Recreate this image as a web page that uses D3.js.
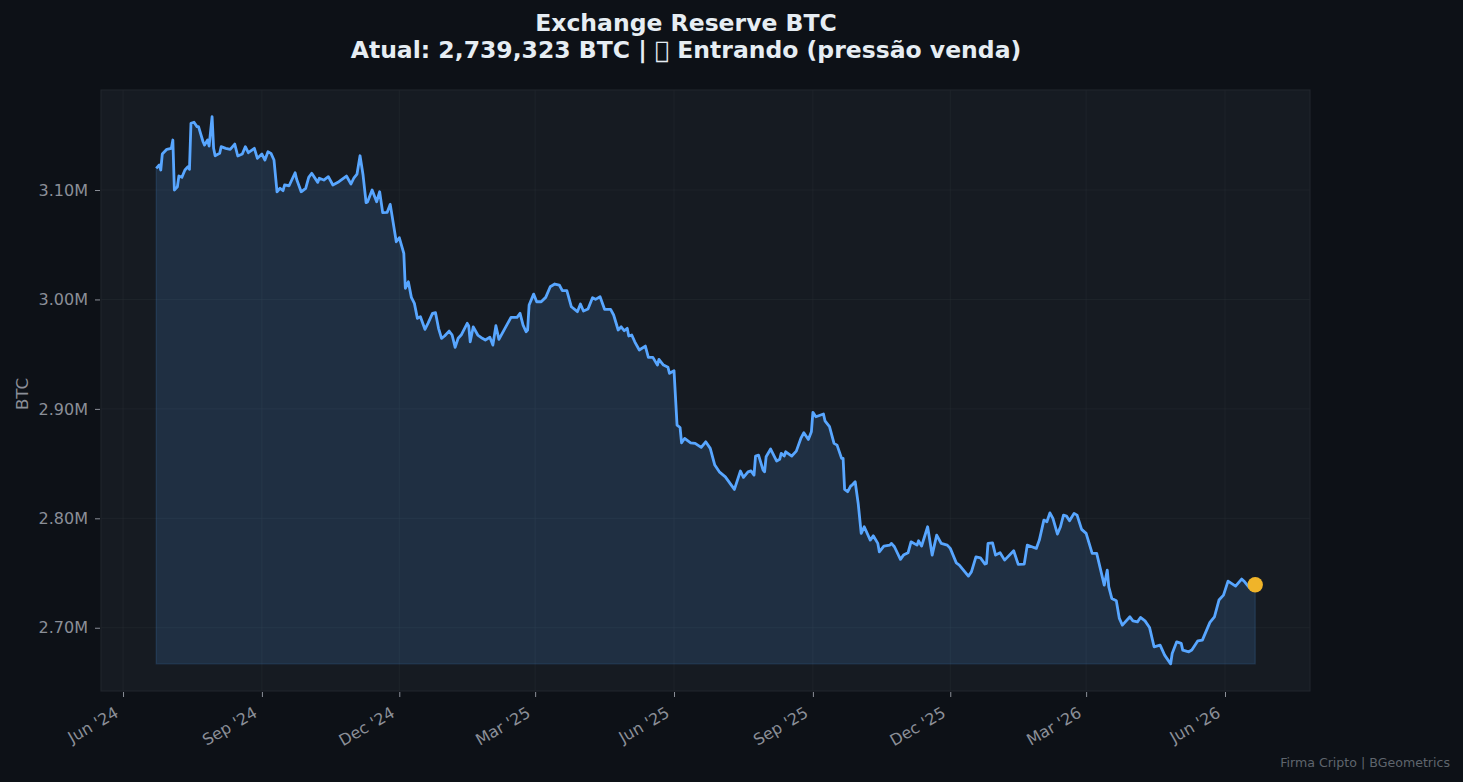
<!DOCTYPE html>
<html>
<head>
<meta charset="utf-8">
<title>Exchange Reserve BTC</title>
<script src="https://cdn.jsdelivr.net/npm/d3@7"></script>
<style>
	html, body { margin: 0; padding: 0; background: #0d1117; overflow: hidden; }
	svg { display: block; font-family: "DejaVu Sans", sans-serif; }
</style>
</head>
<body>
<svg id="chart" width="1463" height="782"></svg>
<script>
// --- Data ---
var START_DATE = '2024-06-01';

// days since START_DATE
var dayOffsets = [
	22, 24, 25, 26, 29, 32, 33, 34, 36, 37, 39, 41, 43, 44, 45, 47, 49, 50, 53, 54,
	56, 57, 59, 60, 61, 64, 65, 68, 71, 74, 76, 79, 81, 83, 87, 89, 92, 94, 96, 98,
	100, 102, 104, 106, 107, 110, 114, 115, 118, 121, 123, 125, 129, 130, 133, 136, 139, 143, 148, 151,
	153, 155, 157, 159, 161, 162, 165, 168, 170, 172, 175, 177, 181, 183, 186, 187, 189, 191, 193, 195,
	197, 200, 202, 205, 207, 209, 211, 213, 216, 218, 220, 222, 224, 228, 229, 230, 232, 235, 238, 240,
	243, 245, 247, 249, 253, 257, 261, 263, 265, 267, 268, 269, 272, 274, 277, 280, 283, 286, 289, 291,
	294, 297, 301, 303, 305, 308, 311, 313, 316, 319, 323, 325, 328, 330, 332, 334, 335, 337, 339, 342,
	346, 348, 351, 354, 355, 358, 361, 362, 365, 367, 369, 370, 372, 376, 379, 383, 386, 389, 392, 395,
	399, 405, 409, 411, 414, 416, 418, 419, 421, 424, 425, 426, 429, 433, 435, 436, 438, 439, 443, 446,
	449, 451, 454, 456, 457, 459, 464, 465, 468, 471, 473, 476, 477, 478, 480, 482, 483, 485, 487, 489,
	491, 495, 497, 500, 501, 504, 508, 509, 511, 515, 517, 520, 522, 526, 527, 529, 533, 536, 539, 542,
	546, 548, 552, 554, 560, 562, 565, 568, 571, 572, 573, 576, 578, 581, 584, 590, 593, 597, 599, 602,
	605, 607, 610, 612, 614, 616, 619, 621, 623, 625, 627, 630, 632, 635, 638, 642, 645, 650, 652, 653,
	655, 658, 660, 662, 667, 669, 672, 674, 677, 680, 683, 687, 690, 694, 695, 698, 701, 702, 706, 708,
	712, 715, 720, 723, 726, 729, 732, 737, 741, 743, 746, 750
];

// thousand BTC on exchanges
var reserveK = [
	3119.8, 3122.9, 3118.3, 3132.9, 3137.2, 3138.1, 3145.7, 3100, 3103, 3112.8, 3111.6, 3118.3, 3121.3, 3118.9, 3161, 3161.9, 3157.9, 3157.9, 3144.1, 3141.1,
	3145.7, 3140.2, 3167, 3138.1, 3131.3, 3133.5, 3139.6, 3138.1, 3137.2, 3142, 3131.1, 3132.9, 3139.6, 3134.1, 3138.1, 3129, 3132.9, 3127.4, 3135, 3133.5,
	3127.4, 3098.4, 3101.6, 3099.4, 3104.6, 3103.9, 3115.8, 3109.8, 3098.4, 3101.6, 3111.6, 3115.3, 3107, 3110.7, 3109.1, 3112.2, 3104.6, 3107.6, 3112.8, 3105.5,
	3111.2, 3114.6, 3131.3, 3113.7, 3088.4, 3089.3, 3100, 3089.3, 3098.4, 3079.3, 3079.6, 3086.9, 3052.7, 3056.4, 3042.1, 3010.2, 3016.2, 3001.9, 2996.4, 2982.7,
	2984.2, 2972.7, 2978.2, 2987.3, 2987.9, 2973.6, 2964.5, 2966.6, 2971.1, 2967.5, 2956.2, 2964.5, 2967.5, 2978.2, 2975.7, 2961.3, 2975, 2967.5, 2964.5, 2962.9,
	2965.4, 2958.3, 2976, 2963.5, 2973.6, 2983.6, 2983.6, 2987.3, 2976.6, 2970.5, 2972, 2994.9, 3004.9, 2997.9, 2997.9, 3001.9, 3011.6, 3014.1, 3013.2, 3008,
	3008, 2993.3, 2988.8, 2995.8, 2989.4, 2991.2, 3001.6, 3000.1, 3002.5, 2991, 2991, 2985.8, 2972.1, 2975, 2971.4, 2973.6, 2966.6, 2967.5, 2961.3, 2953.8,
	2957.4, 2947.1, 2947.1, 2940, 2945.3, 2940, 2938, 2932.5, 2934.8, 2885.2, 2883, 2869, 2873, 2869, 2868.5, 2864.8, 2869.9, 2863.9, 2848.7, 2842.5,
	2837.9, 2826.4, 2843.2, 2837.4, 2842.5, 2843.4, 2839.5, 2856.9, 2857.8, 2844.1, 2842.5, 2856.2, 2863.3, 2852.3, 2853.9, 2859.3, 2856.9, 2860.8, 2856.9, 2861.4,
	2873, 2878.2, 2872.1, 2879.1, 2896.8, 2892.8, 2895.3, 2889.1, 2883.7, 2868.5, 2866.9, 2854.8, 2854.8, 2826.4, 2824.3, 2829.5, 2830.4, 2833.4, 2813.6, 2786.2,
	2792.3, 2780.1, 2784, 2777.1, 2769.4, 2774.6, 2775.5, 2777.1, 2774, 2762.5, 2766.4, 2768.5, 2778.5, 2775.5, 2779.5, 2774.6, 2792.3, 2766.4, 2784.7, 2777.1,
	2775.5, 2772.5, 2759.3, 2757.3, 2747.2, 2751.1, 2764.8, 2763.9, 2758.2, 2758.8, 2777.1, 2777.6, 2766.4, 2768.5, 2761.8, 2770.3, 2757.9, 2758.2, 2775.5, 2774,
	2772.5, 2780.1, 2798.4, 2796.8, 2805, 2800, 2785.6, 2792.3, 2802.9, 2802, 2797.7, 2804.5, 2802.9, 2789.9, 2786.2, 2767.9, 2767.9, 2738.9, 2752.7, 2737.4,
	2726.8, 2724.6, 2708.5, 2702.4, 2710, 2706.3, 2705.4, 2709.4, 2706.3, 2700.3, 2682.6, 2684.1, 2675, 2667, 2676.5, 2687.1, 2685.7, 2679.6, 2678, 2679.6,
	2688.1, 2688.7, 2704.9, 2710, 2725.3, 2729.8, 2742.6, 2738, 2744.5, 2742, 2736.9, 2739.323
];

var xTickDates = ['2024-06-01', '2024-09-01', '2024-12-01', '2025-03-01', '2025-06-01', '2025-09-01', '2025-12-01', '2026-03-01', '2026-06-01'];
var yTickValues = [2700, 2800, 2900, 3000, 3100];

// \uE000 stands in for the glyph the reference shows as an empty box
var titleLines = ['Exchange Reserve BTC', 'Atual: 2,739,323 BTC | \uE000 Entrando (press\u00E3o venda)'];
var yLabel = 'BTC';
var sourceNote = 'Firma Cripto | BGeometrics';

// --- Layout and styling ---
var PLOT = { left: 101, right: 1310, top: 90, bottom: 691 };
var COLORS = {
	plotBg: '#161b22',
	spine: '#21262d',
	grid: '#30363d',
	line: '#58a6ff',
	marker: '#f0b429',
	tick: '#8b8f98',
	title: '#e6edf3',
	note: '#5f656d'
};

var MS_PER_DAY = 86400000;
var startMs = Date.parse(START_DATE + 'T00:00:00Z');

function dayToDate(d) {
	return new Date(startMs + d * MS_PER_DAY);
}

var points = dayOffsets.map(function (d, i) {
	return { date: dayToDate(d), value: reserveK[i] };
});
var last = points[points.length - 1];
var minValue = d3.min(reserveK);

var x = d3.scaleUtc()
	.domain([dayToDate(-14.6), dayToDate(786.3)])
	.range([PLOT.left, PLOT.right]);

var y = d3.scaleLinear()
	.domain([2642.2, 3191.4])
	.range([PLOT.bottom, PLOT.top]);

var svg = d3.select('#chart');
var plotW = PLOT.right - PLOT.left;
var plotH = PLOT.bottom - PLOT.top;

svg.append('rect')
	.attr('x', PLOT.left)
	.attr('y', PLOT.top)
	.attr('width', plotW)
	.attr('height', plotH)
	.attr('fill', COLORS.plotBg);

// Grid
var xDates = xTickDates.map(function (s) { return new Date(s + 'T00:00:00Z'); });

svg.append('g')
	.selectAll('line')
	.data(xDates)
	.enter()
	.append('line')
	.attr('x1', function (d) { return x(d); })
	.attr('x2', function (d) { return x(d); })
	.attr('y1', PLOT.top)
	.attr('y2', PLOT.bottom)
	.attr('stroke', COLORS.grid)
	.attr('stroke-opacity', 0.45)
	.attr('stroke-width', 0.7);

svg.append('g')
	.selectAll('line')
	.data(yTickValues)
	.enter()
	.append('line')
	.attr('x1', PLOT.left)
	.attr('x2', PLOT.right)
	.attr('y1', function (d) { return y(d); })
	.attr('y2', function (d) { return y(d); })
	.attr('stroke', COLORS.grid)
	.attr('stroke-opacity', 0.45)
	.attr('stroke-width', 0.7);

// Area down to the series minimum, then the line on top
var area = d3.area()
	.x(function (d) { return x(d.date); })
	.y0(y(minValue))
	.y1(function (d) { return y(d.value); });

svg.append('path')
	.datum(points)
	.attr('d', area)
	.attr('fill', COLORS.line)
	.attr('fill-opacity', 0.15)
	.attr('stroke', COLORS.line)
	.attr('stroke-opacity', 0.15)
	.attr('stroke-width', 1.3);

var line = d3.line()
	.x(function (d) { return x(d.date); })
	.y(function (d) { return y(d.value); });

svg.append('path')
	.datum(points)
	.attr('d', line)
	.attr('fill', 'none')
	.attr('stroke', COLORS.line)
	.attr('stroke-width', 2.8)
	.attr('stroke-linejoin', 'round');

svg.append('circle')
	.attr('cx', x(last.date))
	.attr('cy', y(last.value))
	.attr('r', 7.7)
	.attr('fill', COLORS.marker);

// Spines
svg.append('rect')
	.attr('x', PLOT.left)
	.attr('y', PLOT.top)
	.attr('width', plotW)
	.attr('height', plotH)
	.attr('fill', 'none')
	.attr('stroke', COLORS.spine)
	.attr('stroke-width', 1.1);

// Axes
var xAxis = d3.axisBottom(x)
	.tickValues(xDates)
	.tickSize(5)
	.tickFormat(d3.utcFormat("%b '%y"));

var yAxis = d3.axisLeft(y)
	.tickValues(yTickValues)
	.tickSize(5)
	.tickPadding(7)
	.tickFormat(function (d) { return (d / 1000).toFixed(2) + 'M'; });

var xg = svg.append('g')
	.attr('transform', 'translate(0,' + (PLOT.bottom + 1) + ')')
	.call(xAxis);

var yg = svg.append('g')
	.attr('transform', 'translate(' + (PLOT.left - 1) + ',0)')
	.call(yAxis);

[xg, yg].forEach(function (g) {
	g.select('.domain').remove();
	g.selectAll('.tick line').attr('stroke', COLORS.tick).attr('stroke-width', 1);
	g.selectAll('.tick text')
		.attr('fill', COLORS.tick)
		.style('font-family', '"DejaVu Sans", sans-serif')
		.style('font-size', '16px');
});

// Rotated labels end just left of their tick
xg.selectAll('.tick text')
	.attr('text-anchor', 'end')
	.attr('x', 0)
	.attr('y', 0)
	.attr('dy', 0)
	.attr('transform', 'translate(-4,24) rotate(-30)');

// Labels
svg.append('text')
	.attr('transform', 'translate(28,394) rotate(-90)')
	.attr('text-anchor', 'middle')
	.attr('fill', COLORS.tick)
	.style('font-size', '16.6px')
	.text(yLabel);

svg.append('g')
	.selectAll('text')
	.data(titleLines)
	.enter()
	.append('text')
	.attr('x', 686)
	.attr('y', function (d, i) { return 31 + i * 26.5; })
	.attr('text-anchor', 'middle')
	.attr('fill', COLORS.title)
	.style('font-size', '23.5px')
	.style('font-weight', 'bold')
	.text(function (d) { return d; });

svg.append('text')
	.attr('x', 1450)
	.attr('y', 767)
	.attr('text-anchor', 'end')
	.attr('fill', COLORS.note)
	.style('font-size', '12.6px')
	.text(sourceNote);
</script>
</body>
</html>
